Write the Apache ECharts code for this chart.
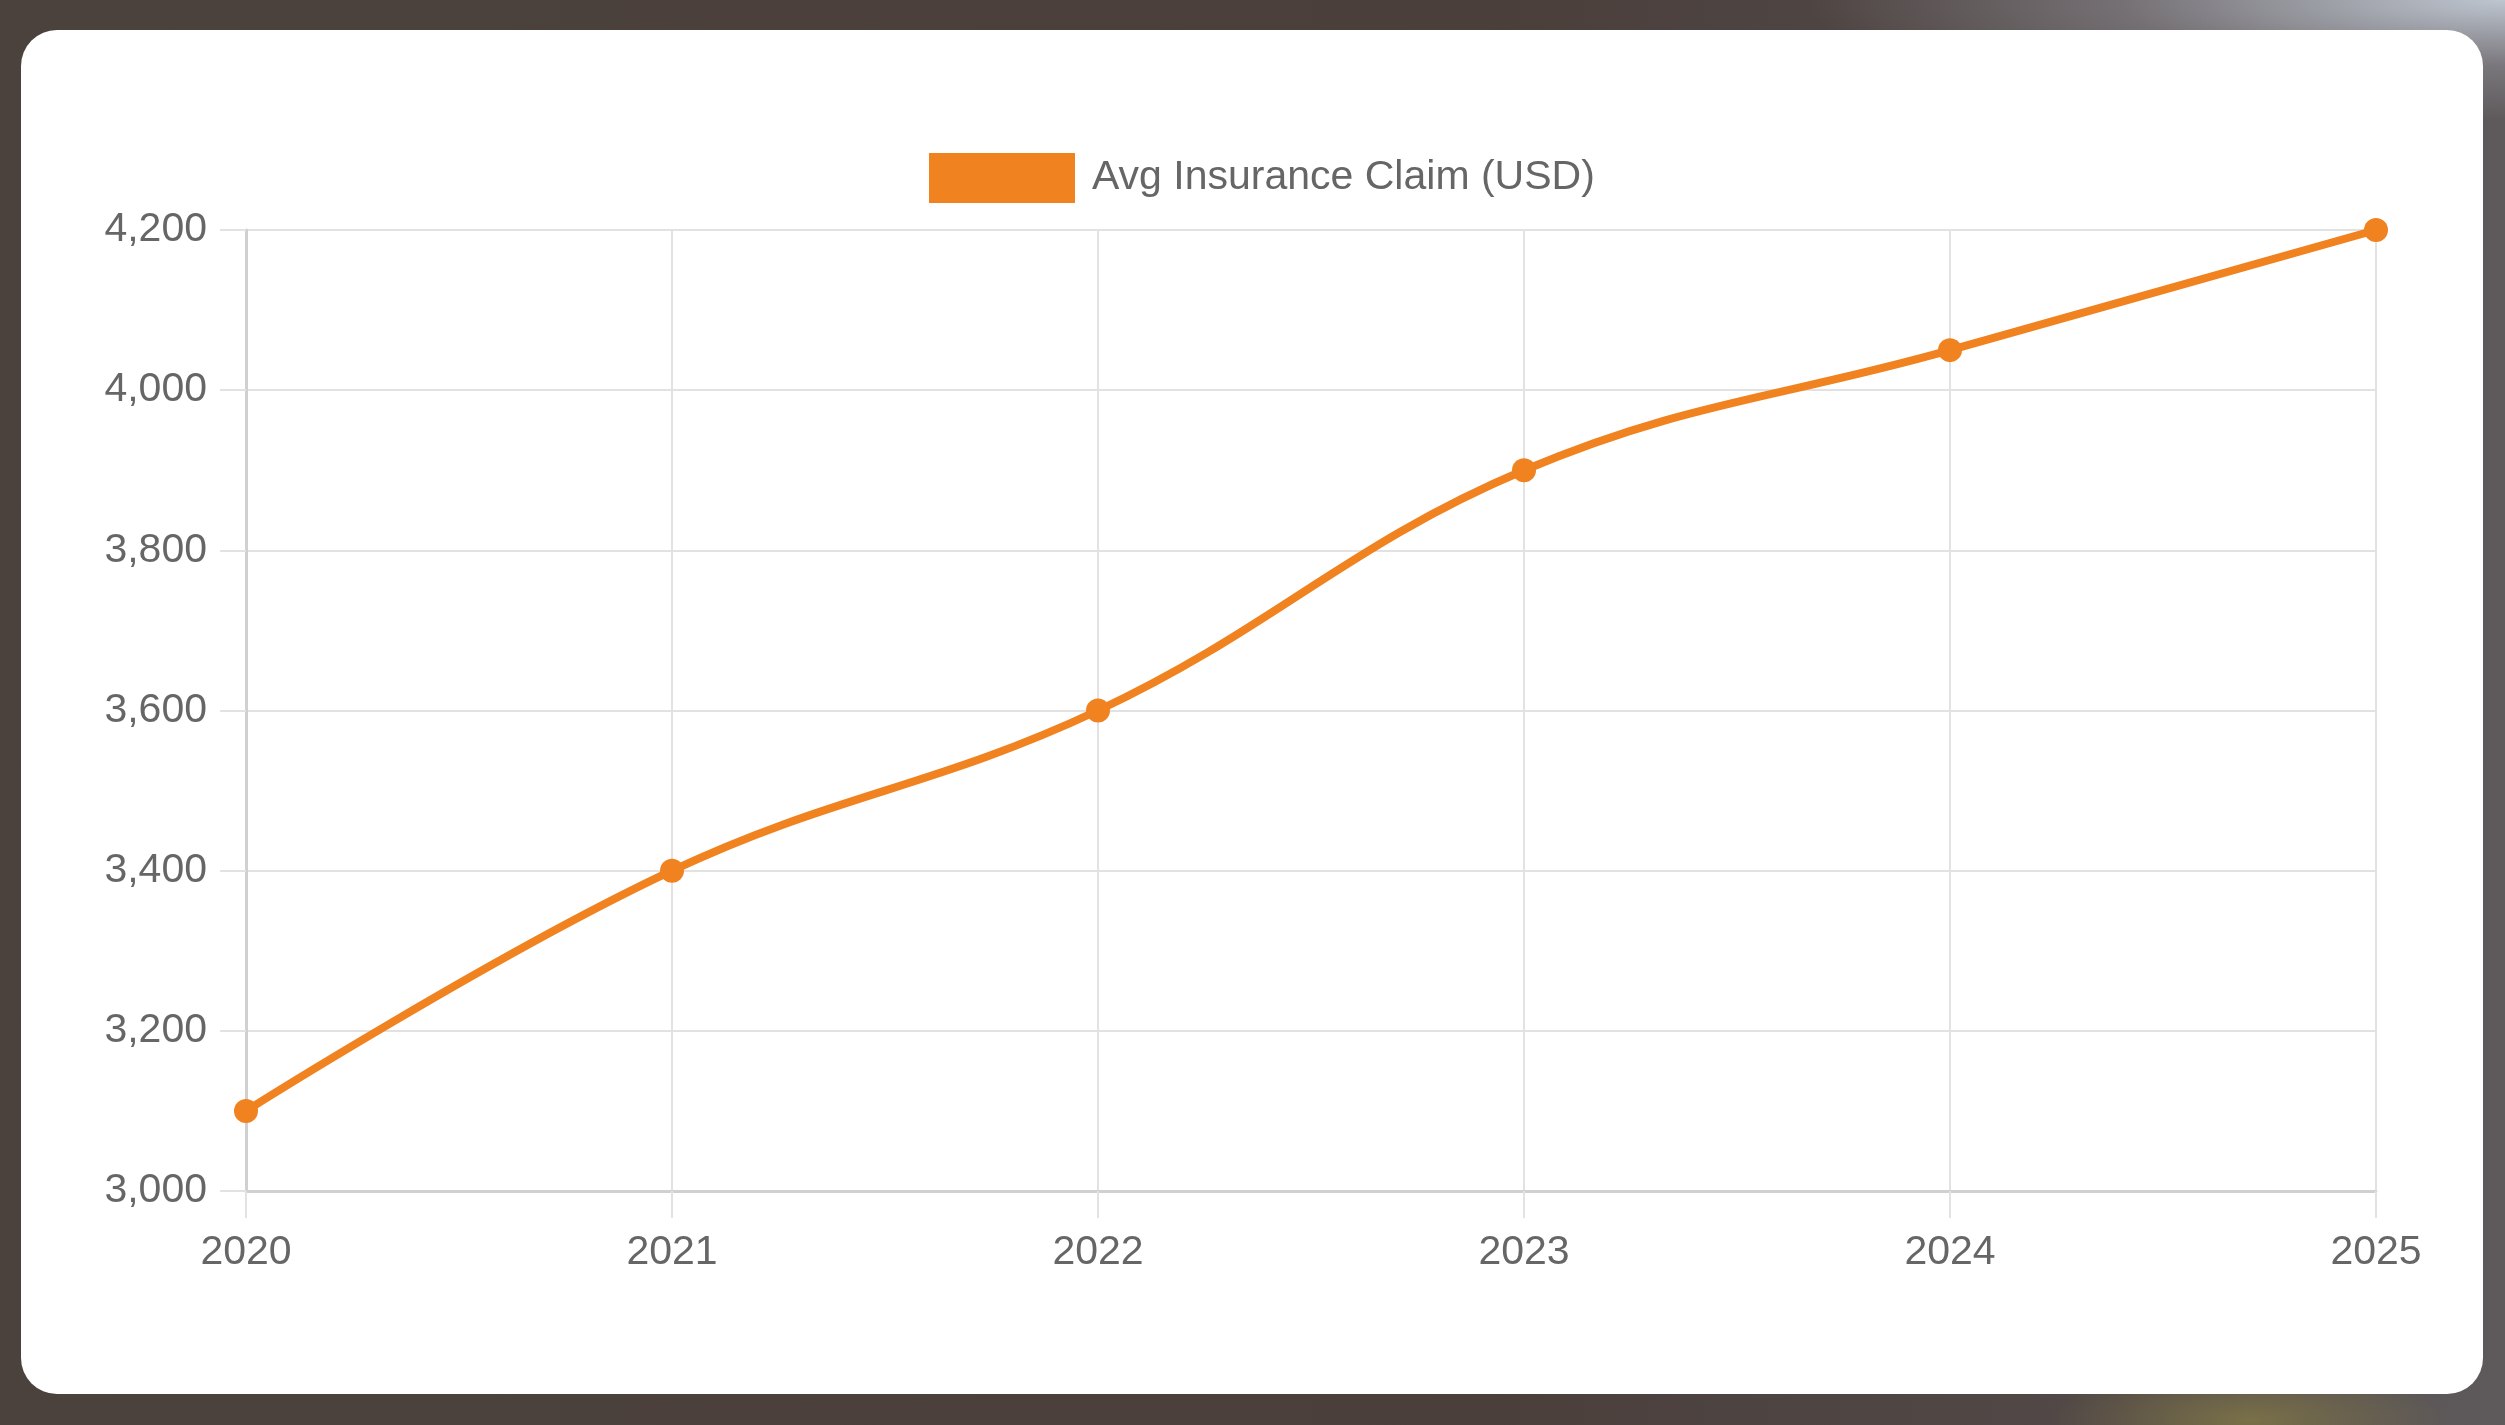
<!DOCTYPE html>
<html>
<head>
<meta charset="utf-8">
<script src="https://cdn.jsdelivr.net/npm/echarts@6/dist/echarts.min.js"></script>
<style>
  html, body { margin:0; padding:0; width:2505px; height:1425px; overflow:hidden; }
  body {
    background:
      radial-gradient(ellipse 700px 120px at 2505px 0px, rgba(195,203,214,0.95), rgba(140,138,145,0.6) 55%, rgba(110,100,100,0) 100%),
      radial-gradient(ellipse 200px 60px at 2250px 1420px, rgba(130,120,70,0.8), rgba(80,70,50,0) 100%),
      linear-gradient(to right, #4b413d 0%, #4a3f3b 60%, #524948 85%, #5e5a5c 100%);
  }
  #card { position:absolute; left:21px; top:30px; width:2462px; height:1364px; background:#fff; border-radius:36px; }
  #chart { position:absolute; left:0; top:0; width:2505px; height:1425px; }
</style>
</head>
<body>
<div id="card"></div>
<div id="chart"></div>
<script>
const categories = ['2020', '2021', '2022', '2023', '2024', '2025'];
const claimValues = [3100, 3400, 3600, 3900, 4050, 4200];
const seriesName = 'Avg Insurance Claim (USD)';
const yMin = 3000, yMax = 4200, yStep = 200;

const chart = echarts.init(document.getElementById('chart'), null, { renderer: 'canvas' });
const font = '"Liberation Sans", Arial, Helvetica, sans-serif';
const orange = '#f0821f';
chart.setOption({
  backgroundColor: 'transparent',
  animation: false,
  textStyle: { fontFamily: font },
  legend: {
    show: true,
    left: 924, top: 148,
    icon: 'rect',
    itemWidth: 146, itemHeight: 50,
    textStyle: { fontSize: 41, color: '#666', fontFamily: font, padding: [0, 0, 0, 12] },
    data: [{ name: seriesName, itemStyle: { color: orange } }]
  },
  grid: { left: 246, right: 129, top: 230, bottom: 234, containLabel: false },
  xAxis: {
    type: 'category',
    data: categories,
    boundaryGap: false,
    axisLine: { show: true, lineStyle: { color: '#d0d0d0', width: 3 } },
    axisTick: { show: true, length: 27, alignWithLabel: true, interval: 0, lineStyle: { color: '#e2e2e2', width: 2 } },
    axisLabel: { interval: 0, margin: 41, fontSize: 41, color: '#666', fontFamily: font },
    splitLine: { show: true, lineStyle: { color: '#e2e2e2', width: 2 } }
  },
  yAxis: {
    type: 'value',
    min: yMin, max: yMax, interval: yStep,
    axisLine: { show: true, lineStyle: { color: '#d0d0d0', width: 3 } },
    axisTick: { show: true, length: 26, lineStyle: { color: '#e2e2e2', width: 2 } },
    axisLabel: { margin: 39, fontSize: 41, color: '#666', fontFamily: font,
      formatter: v => v.toLocaleString('en-US') },
    splitLine: { show: true, lineStyle: { color: '#e2e2e2', width: 2 } }
  },
  series: [{
    name: seriesName,
    type: 'line',
    data: claimValues,
    smooth: 0.4,
    symbol: 'circle',
    symbolSize: 24,
    itemStyle: { color: orange },
    lineStyle: { color: orange, width: 8 }
  }]
});
</script>
</body>
</html>
